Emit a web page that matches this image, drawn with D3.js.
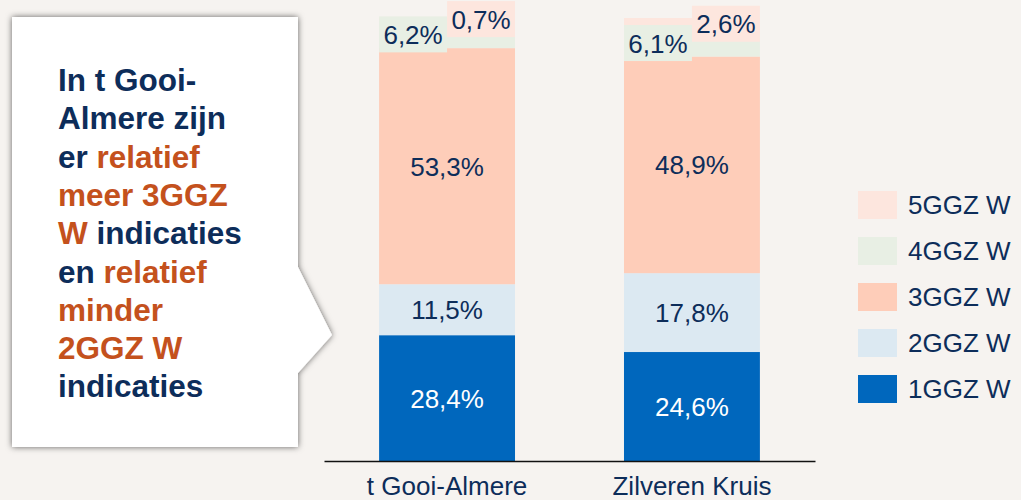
<!DOCTYPE html>
<html>
<head>
<meta charset="utf-8">
<script src="https://d3js.org/d3.v7.min.js"></script>
<style>
  body { margin: 0; background: #f6f3f0; }
  svg { display: block; font-family: "Liberation Sans", Arial, sans-serif; }
</style>
</head>
<body>
<div id="chart"></div>
<script>
  // data
  var categories = ["t Gooi-Almere", "Zilveren Kruis"];
  var series = ["1GGZ W", "2GGZ W", "3GGZ W", "4GGZ W", "5GGZ W"];
  var values = {
    "t Gooi-Almere": [28.4, 11.5, 53.3, 6.2, 0.7],
    "Zilveren Kruis": [24.6, 17.8, 48.9, 6.1, 2.6]
  };
  var colors = ["#0067bd", "#dce9f2", "#fecdb9", "#e8efe4", "#fde6de"];
  var calloutLines = [
    [["In t Gooi-", 0]],
    [["Almere zijn", 0]],
    [["er ", 0], ["relatief", 1]],
    [["meer 3GGZ", 1]],
    [["W", 1], [" indicaties", 0]],
    [["en ", 0], ["relatief", 1]],
    [["minder", 1]],
    [["2GGZ W", 1]],
    [["indicaties", 0]]
  ];

  var W = 1021, H = 500;
  var navy = "#0d2d5a", orange = "#c4511d";

  var svg = d3.select("#chart").append("svg")
    .attr("width", W).attr("height", H);

  var defs = svg.append("defs");
  var f = defs.append("filter").attr("id", "shadow")
    .attr("x", "-10%").attr("y", "-10%").attr("width", "120%").attr("height", "120%");
  f.append("feDropShadow").attr("dx", 0).attr("dy", 0).attr("stdDeviation", 3)
    .attr("flood-color", "#000").attr("flood-opacity", 0.6);

  // callout box
  var path = d3.path();
  path.moveTo(12, 17);
  path.lineTo(298, 17);
  path.lineTo(298, 267);
  path.lineTo(332, 335);
  path.lineTo(298, 373);
  path.lineTo(298, 447);
  path.lineTo(12, 447);
  path.closePath();
  svg.append("path").attr("d", path.toString())
    .attr("fill", "#fff").attr("filter", "url(#shadow)");

  var callout = svg.append("text")
    .attr("font-weight", "bold").attr("font-size", 31.5);
  calloutLines.forEach(function (line, i) {
    var t = callout.append("tspan").attr("x", 58).attr("y", 91 + i * 38.3);
    line.forEach(function (part, j) {
      (j === 0 ? t : callout.append("tspan"))
        .attr("fill", part[1] ? orange : navy)
        .text(part[0]);
    });
  });

  // scales
  var x = d3.scaleBand().domain(categories).range([324, 815])
    .paddingInner(0.445).paddingOuter(0.225);
  var y = d3.scaleLinear().domain([0, 100]).range([461, 18]);

  var stackData = categories.map(function (c) {
    var o = { cat: c };
    series.forEach(function (s, i) { o[s] = values[c][i]; });
    return o;
  });
  var stacked = d3.stack().keys(series)(stackData);

  var layers = svg.append("g").selectAll("g")
    .data(stacked).enter().append("g")
    .attr("fill", function (d, i) { return colors[i]; });

  layers.selectAll("rect")
    .data(function (d) { return d; })
    .enter().append("rect")
    .attr("x", function (d) { return x(d.data.cat); })
    .attr("width", x.bandwidth())
    .attr("y", function (d) { return y(d[1]); })
    .attr("height", function (d) { return y(d[0]) - y(d[1]); });

  // labels
  var labels = svg.append("g").attr("font-size", 26);
  stacked.forEach(function (layer, i) {
    layer.forEach(function (d) {
      var v = d[1] - d[0];
      var cy = (y(d[0]) + y(d[1])) / 2;
      var bx = x(d.data.cat), bw = x.bandwidth();
      var cx = bx + bw / 2;
      var txt = d3.format(".1f")(values[d.data.cat][i]).replace(".", ",") + "%";
      if (v < 8) {
        // small segments: boxed label in left/right half
        var half = bw / 2;
        var lx = i === 3 ? bx : bx + half;
        labels.append("rect")
          .attr("x", lx).attr("y", cy - 18)
          .attr("width", half).attr("height", 36)
          .attr("fill", colors[i]);
        cx = lx + half / 2;
      }
      labels.append("text")
        .attr("x", cx).attr("y", cy)
        .attr("dy", "0.37em")
        .attr("text-anchor", "middle")
        .attr("fill", i === 0 ? "#fff" : navy)
        .text(txt);
    });
  });

  // x axis
  var axis = svg.append("g").attr("transform", "translate(0,461)")
    .call(d3.axisBottom(x).tickSize(0).tickPadding(16).tickSizeOuter(0));
  axis.select(".domain").attr("stroke", "#111").attr("stroke-width", 1.5);
  axis.selectAll("text")
    .attr("font-size", 26).attr("fill", navy)
    .attr("font-family", "Liberation Sans, Arial, sans-serif");

  // legend
  var legend = svg.append("g");
  var legendOrder = series.slice().reverse();
  legendOrder.forEach(function (s, i) {
    var idx = series.indexOf(s);
    var g = legend.append("g").attr("transform", "translate(858," + (191 + i * 46) + ")");
    g.append("rect").attr("width", 39).attr("height", 28).attr("fill", colors[idx]);
    g.append("text").attr("x", 50).attr("y", 14).attr("dy", "0.36em")
      .attr("font-size", 26).attr("fill", navy).text(s);
  });
</script>
</body>
</html>
